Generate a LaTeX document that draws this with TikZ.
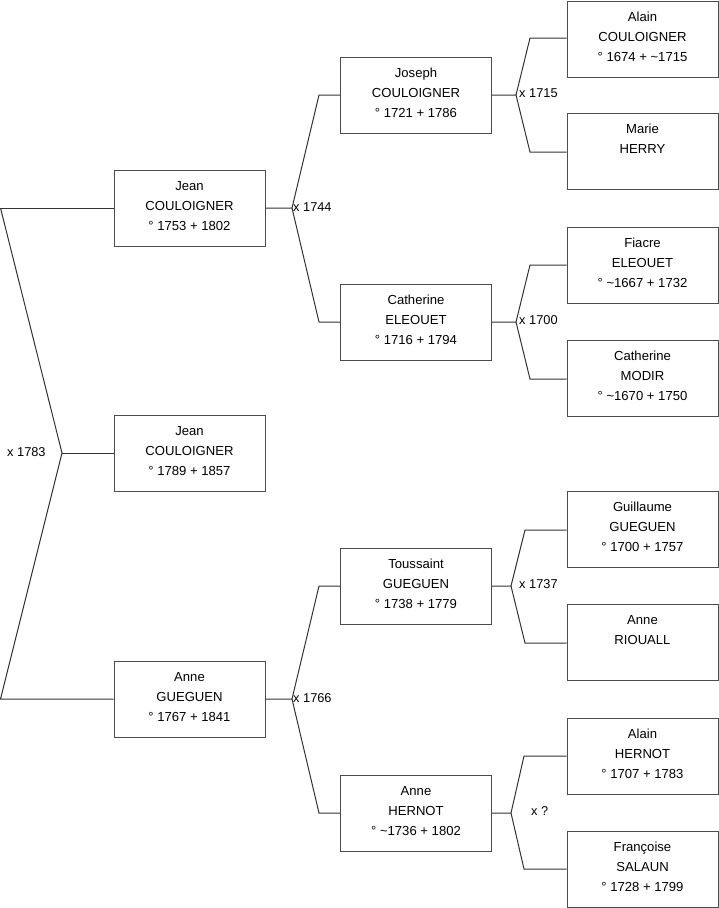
\documentclass[tikz,border=0pt]{standalone}
\usepackage{fontspec}
\setmainfont{Liberation Sans}
\newcommand{\pthree}[3]{#1\\#2\\#3\\[-16pt]\mbox{}}
\newcommand{\ptwo}[2]{#1\\#2\\\mbox{}\\[-16pt]\mbox{}}
\begin{document}
\begin{tikzpicture}[x=1pt,y=-1pt,
  person/.style={draw=black!70, line width=1pt, minimum width=151pt, minimum height=76pt, align=center, inner sep=0pt, font=\fontsize{13.1}{20}\selectfont},
  link/.style={draw=black!80, line width=1pt},
  lbl/.style={font=\fontsize{12.8}{15}\selectfont, inner sep=0pt, anchor=west}]
\useasboundingbox (0,0) rectangle (719,908);
% generation 1 and 2
\node[person] (jean)  at (189.5,208) {\pthree{Jean}{COULOIGNER}{° 1753 + 1802}};
\node[person] (jeanb) at (189.5,453) {\pthree{Jean}{COULOIGNER}{° 1789 + 1857}};
\node[person] (anne)  at (189.5,699) {\pthree{Anne}{GUEGUEN}{° 1767 + 1841}};
% generation 3
\node[person] (joseph) at (416,95)  {\pthree{Joseph}{COULOIGNER}{° 1721 + 1786}};
\node[person] (cath)   at (416,322) {\pthree{Catherine}{ELEOUET}{° 1716 + 1794}};
\node[person] (touss)  at (416,586) {\pthree{Toussaint}{GUEGUEN}{° 1738 + 1779}};
\node[person] (anneh)  at (416,813) {\pthree{Anne}{HERNOT}{° \textasciitilde 1736 + 1802}};
% generation 4
\node[person] (alain)  at (642.5,39)  {\pthree{Alain}{COULOIGNER}{° 1674 + \textasciitilde 1715}};
\node[person] (marie)  at (642.5,151) {\ptwo{Marie}{HERRY}};
\node[person] (fiacre) at (642.5,265) {\pthree{Fiacre}{ELEOUET}{° \textasciitilde 1667 + 1732}};
\node[person] (modir)  at (642.5,378) {\pthree{Catherine}{MODIR}{° \textasciitilde 1670 + 1750}};
\node[person] (guil)   at (642.5,529) {\pthree{Guillaume}{GUEGUEN}{° 1700 + 1757}};
\node[person] (riou)   at (642.5,642) {\ptwo{Anne}{RIOUALL}};
\node[person] (alainh) at (642.5,756) {\pthree{Alain}{HERNOT}{° 1707 + 1783}};
\node[person] (franc)  at (642.5,869) {\pthree{Françoise}{SALAUN}{° 1728 + 1799}};
% left bracket
\coordinate (l1) at (0.5,208);
\coordinate (l2) at (0.5,699);
\coordinate (a0) at (62,453);
\draw[link] (l1) -- (jean.west);
\draw[link] (l1) -- (a0) -- (l2) -- (anne.west);
\draw[link] (a0) -- (jeanb.west);
\node[lbl] (m0) at (7,452) {x 1783};
% x 1744
\coordinate (a1) at (292,208);
\coordinate (b1) at (319,95);
\coordinate (c1) at (319,322);
\draw[link] (jean.east) -- (a1) -- (b1) -- (joseph.west);
\draw[link] (a1) -- (c1) -- (cath.west);
\node[lbl] (m1) at (293,207) {x 1744};
% x 1766
\coordinate (a2) at (292,699);
\coordinate (b2) at (319,586);
\coordinate (c2) at (319,813);
\draw[link] (anne.east) -- (a2) -- (b2) -- (touss.west);
\draw[link] (a2) -- (c2) -- (anneh.west);
\node[lbl] (m2) at (293,698) {x 1766};
% x 1715
\coordinate (a3) at (516,95);
\coordinate (b3) at (530,38);
\coordinate (c3) at (530,152);
\draw[link] (joseph.east) -- (a3) -- (b3) -- (b3 -| alain.west);
\draw[link] (a3) -- (c3) -- (c3 -| marie.west);
\node[lbl] (m3) at (519,93) {x 1715};
% x 1700
\coordinate (a4) at (516,322);
\coordinate (b4) at (530,265);
\coordinate (c4) at (530,379);
\draw[link] (cath.east) -- (a4) -- (b4) -- (fiacre.west);
\draw[link] (a4) -- (c4) -- (c4 -| modir.west);
\node[lbl] (m4) at (519,320) {x 1700};
% x 1737
\coordinate (a5) at (511,586);
\coordinate (b5) at (525,530);
\coordinate (c5) at (525,643);
\draw[link] (touss.east) -- (a5) -- (b5) -- (b5 -| guil.west);
\draw[link] (a5) -- (c5) -- (c5 -| riou.west);
\node[lbl] (m5) at (519,584) {x 1737};
% x ?
\coordinate (a6) at (511,813);
\coordinate (b6) at (524,756);
\coordinate (c6) at (524,869);
\draw[link] (anneh.east) -- (a6) -- (b6) -- (alainh.west);
\draw[link] (a6) -- (c6) -- (franc.west);
\node[lbl] (m6) at (531,811) {x ?};
\end{tikzpicture}
\end{document}
